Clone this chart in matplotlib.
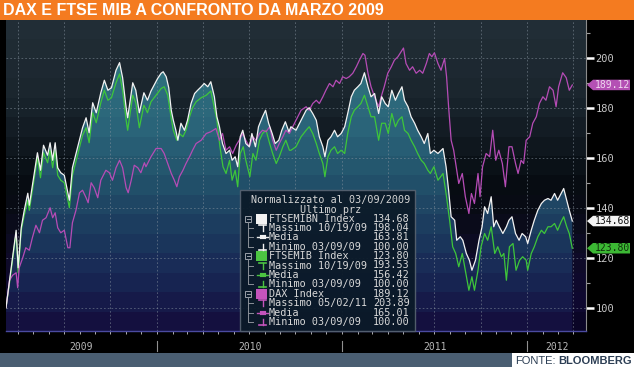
import numpy as np
import pandas as pd
import matplotlib
matplotlib.use("Agg")
import matplotlib.pyplot as plt
from matplotlib.patches import Rectangle, Polygon
from matplotlib.lines import Line2D
from matplotlib.colors import to_rgb
import matplotlib.transforms as mtransforms

# ---- data (normalised to 100 on 03/09/2009), x = days since 2009-03-09 ----
start = pd.Timestamp("2009-03-09")

ftsemibn_days = [0, 7, 20, 24, 30, 36, 43, 46, 56, 62,
                 68, 74, 82, 87, 92, 97, 102, 108, 115, 122,
                 125, 131, 141, 151, 158, 164, 171, 178, 187, 194,
                 201, 208, 217, 224, 230, 237, 240, 250, 256, 263,
                 272, 279,
                 286, 293, 299, 306, 310, 316, 321, 326, 330, 335,
                 339, 345, 352, 358, 365, 372, 378, 385, 391, 398,
                 404, 411, 416, 421, 427, 434, 441, 446, 452, 457,
                 462, 467, 473, 480, 485, 492, 498, 506, 512, 518,
                 525, 531, 538, 544, 551, 558,
                 562, 572, 582, 592, 598, 605, 612, 618, 625, 629,
                 635, 641, 648, 654, 661, 668, 674, 681, 687, 694,
                 700, 707, 714, 720, 727, 735, 741, 748, 754, 761,
                 768, 774, 781, 786, 793, 799, 806, 812, 819, 825,
                 832, 837, 844,
                 852, 862, 868, 873, 878, 885, 889, 896, 901, 908,
                 914, 919, 926, 933, 939, 944, 950, 957, 962, 967,
                 973, 980, 987, 992, 998, 1005, 1012, 1018, 1025, 1029,
                 1036, 1042, 1049, 1056, 1062, 1069, 1075, 1082, 1088, 1095,
                 1100, 1106, 1111, 1117]
ftsemibn = [100, 111, 131, 116, 132, 139, 145.8, 141, 154, 162,
            155, 165, 161, 166, 159, 166, 156, 154, 153, 146,
            143, 156, 164, 172, 176, 170, 182, 178, 186, 191,
            187, 188, 195, 198.04, 192, 180, 176, 190, 187, 178,
            186, 183,
            186.7, 189.4, 191.7, 193.8, 194.4, 192.4, 188, 179, 175, 171,
            167, 173.8, 171, 175, 181.7, 185.7, 187, 188.4, 189.7, 188.4,
            190.4, 184.4, 176.4, 172.4, 165.7, 161.7, 163, 159, 160.4, 156.4,
            168.4, 171, 165.7, 164.4, 169.7, 164.4, 172.4, 176.4, 179, 173.8,
            169.7, 165.7, 167, 171, 174.4, 170.4,
            172.4, 171, 175, 179, 180, 177.7, 175, 168.4, 164.4, 160.4,
            167, 168.4, 171, 168.4, 169.7, 172.4, 177.7, 184.4, 187, 188.4,
            189.7, 194, 188.4, 184.4, 185.7, 177.7, 184.4, 181.7, 180.4, 187,
            183, 185.7, 188.4, 183, 180.4, 176.4, 173.8, 171, 168.4, 165.7,
            169.7, 161.7, 163,
            161.7, 163.7, 156.4, 147, 136.4, 135, 127, 128.4, 127, 121.7,
            119, 115, 119, 127, 132.4, 140.4, 137.7, 144.4, 132.4, 135,
            132.4, 129.7, 132.4, 135, 136.4, 129.7, 127, 129.7, 128.4, 125.7,
            131, 135, 139, 141.7, 143, 143.7, 143, 145.7, 143, 145.7,
            147.7, 143, 139, 134.68]

ftsemib_days = ftsemibn_days[:42] + [
    286, 296, 306, 312, 319, 326, 330, 337, 342, 349,
    355, 362, 368, 375, 385, 395, 404, 411, 416, 422,
    428, 434, 441, 446, 452, 457, 462, 468, 473, 481,
    487, 493, 500, 506, 513, 520, 526, 533, 539, 546,
    552, 559,
    562, 572, 582, 592, 598, 605, 612, 618, 625, 629,
    635, 641, 648, 654, 661, 668, 674, 681, 687, 694,
    700, 707, 714, 720, 727, 735, 741, 748, 754, 761,
    768, 774, 781, 786, 793, 799, 806, 812, 819, 825,
    832, 837, 844,
    852, 862, 868, 875, 881, 887, 893, 900, 906, 913,
    919, 924, 931, 937, 944, 950, 957, 964, 970, 977,
    982, 987, 993, 1000, 1006, 1013, 1019, 1026, 1029, 1036,
    1042, 1049, 1056, 1062, 1069, 1075, 1082, 1088, 1095, 1100,
    1106, 1111, 1117]
ftsemib = [100, 110, 130, 114, 131, 137, 143, 139, 152, 160,
           152, 162, 158, 163, 156, 163, 153, 151, 150, 143,
           140, 153, 161, 169, 172, 166, 178, 174, 182, 187,
           183, 184, 190, 193.53, 187, 175, 171, 185, 182, 172,
           181, 178,
           182.4, 185, 187.7, 188.4, 185, 175.7, 171, 167, 169.7, 168.4,
           171, 176.4, 180, 182.4, 184, 185, 186.7, 180, 175, 164.4,
           156.4, 153.7, 159, 151, 155, 148.4, 161.7, 164.4, 159, 152.4,
           161.7, 159, 167, 169.7, 171, 165.7, 161.7, 157.7, 160.4, 164.4,
           167, 163,
           163, 164.4, 168.4, 171, 172.4, 169.7, 165.7, 161.7, 157.7, 152.4,
           160.4, 163, 164.4, 161.7, 163, 161.7, 169.7, 176.4, 179, 180.4,
           181.7, 185, 180.4, 176.4, 176.4, 167, 173.8, 173.8, 169.7, 177.7,
           172.4, 175, 176.4, 171, 169.7, 167, 164.4, 161.7, 159, 157.7,
           155, 153.7, 156.4,
           151, 153.7, 145.7, 135, 124.4, 121.7, 116.4, 121.7, 115, 107,
           112.4, 107, 115, 124.4, 129.7, 127, 132.4, 121.7, 124.4, 120.4,
           121.7, 111, 124.4, 125.7, 115, 119, 120.4, 119, 115, 121.7,
           124.4, 128.4, 131, 129.7, 132.4, 132.4, 133.7, 131, 134.4, 136.4,
           132.4, 129.7, 123.8]

dax_days = [0, 7, 13, 20, 23, 26, 33, 39, 46, 52,
            59, 66, 72, 79, 87, 92, 97, 102, 108, 115,
            122, 126, 131, 138, 145, 151, 158, 162, 168, 174,
            181, 187, 197, 204, 210, 217, 224, 230, 237, 241,
            247, 253, 260, 266, 273,
            276, 286, 296, 306, 312, 319, 326, 332, 337, 342,
            349, 355, 362, 368, 375, 385, 395, 404, 414, 421,
            427, 434, 441, 447, 454, 460, 467, 473, 480, 487,
            493, 500, 506, 513, 520, 526, 533, 539, 546, 552,
            559,
            562, 572, 582, 592, 598, 605, 612, 618, 625, 631,
            638, 645, 651, 658, 664, 671, 677, 684, 691, 697,
            704, 708, 714, 720, 727, 735, 740, 746, 753, 760,
            766, 773, 784, 789, 796, 802, 809, 816, 822, 829,
            835, 840, 845,
            852, 858, 865, 869, 873, 878, 883, 888, 893, 900,
            906, 913, 918, 924, 931, 935, 940, 947, 954, 960,
            966, 972, 979, 985, 992, 998, 1005, 1010, 1016, 1021,
            1026, 1033, 1039, 1046, 1052, 1059, 1065, 1072, 1079, 1085,
            1090, 1098, 1105, 1111, 1117]
dax = [100, 111, 113, 114, 108, 116, 120, 124, 123, 128,
       133, 130, 135, 136, 140, 136, 138, 132, 130, 131,
       124, 124, 134, 139, 146, 147, 144, 142, 150, 148,
       144, 151, 155, 154, 151, 156, 159, 156, 148, 146,
       151, 157, 156, 154, 158,
       156.4, 160.4, 163.7, 163.7, 161.7, 157.7, 153.7, 151, 148.4, 152.4,
       155, 157.7, 160.4, 163, 165.7, 167, 169.7, 170.4, 171.7, 167,
       169.7, 163, 164.4, 161.7, 165, 167, 169.7, 167, 164.4, 168.4,
       167, 169.7, 171, 170.4, 172.4, 167, 163, 165.7, 168.4, 171,
       169.7,
       171, 175, 179, 180.4, 179, 181.7, 183, 181.7, 184.4, 187,
       189.7, 188.4, 191, 189.7, 192.4, 191.7, 192.4, 193.8, 196.4, 199,
       201.7, 201, 193.8, 188.4, 184.4, 180.4, 184.4, 188.4, 193.8, 196.4,
       199, 200.4, 203.89, 197.7, 195, 196.4, 193.8, 195, 193.8, 197.7,
       201.7, 200.4, 202,
       197.7, 195, 199.7, 192.4, 180.4, 167, 163, 156.4, 149.7, 153.7,
       144.4, 137.7, 145.7, 141.7, 153.7, 144.4, 156.4, 161.7, 160.4, 171,
       159, 163, 157.7, 148.4, 164.4, 164.4, 157.7, 153.7, 159, 157.7,
       167, 168.4, 173.8, 176.4, 181.7, 184.4, 183, 188.4, 187, 180.4,
       188.4, 194, 192, 187, 189.12]

legend_header = ["Normalizzato al 03/09/2009", "Ultimo prz"]
legend_rows = [
    ("FTSEMIBN Index", "134.68"), ("Massimo 10/19/09", "198.04"),
    ("Media", "163.81"), ("Minimo 03/09/09", "100.00"),
    ("FTSEMIB Index", "123.80"), ("Massimo 10/19/09", "193.53"),
    ("Media", "156.42"), ("Minimo 03/09/09", "100.00"),
    ("DAX Index", "189.12"), ("Massimo 05/02/11", "203.89"),
    ("Media", "165.01"), ("Minimo 03/09/09", "100.00"),
]
years = ["2009", "2010", "2011", "2012"]
title = "DAX E FTSE MIB A CONFRONTO DA MARZO 2009"

WHITE, GREEN, MAGENTA = "#f2f2f2", "#3ec63a", "#b64cb6"

# ---- figure helpers (pixel coords, origin top-left) ----
W, H = 634, 367
fig = plt.figure(figsize=(W / 100, H / 100), dpi=100, facecolor="black")


def fx(x):
    return x / W


def fy(y):
    return 1 - y / H


def fline(xs, ys, color, lw=0.8):
    fig.add_artist(Line2D([fx(v) for v in xs], [fy(v) for v in ys],
                          color=color, lw=lw, transform=fig.transFigure))


def frect(x0, y0, x1, y1, **kw):
    fig.add_artist(Rectangle((fx(x0), fy(y1)), (x1 - x0) / W, (y1 - y0) / H,
                             transform=fig.transFigure, **kw))


def bands(stops, n):
    pos = np.array([p for p, _ in stops])
    cols = np.array([to_rgb(c) for _, c in stops])
    t = (np.arange(n) + 0.5) / n
    out = np.stack([np.interp(t, pos, cols[:, k]) for k in range(3)], axis=1)
    return out[:, None, :]


# ---- axes ----
XMIN, XMAX = 0, 1144
YMIN, YMAX = 90.7, 215.1
ax = fig.add_axes([fx(6), fy(331), 580 / W, 311 / H])

bg = bands([(0, "#232f38"), (0.25, "#1a252d"), (0.4, "#10181f"),
            (0.52, "#070d12"), (0.62, "#090b16"), (0.75, "#0e0b26"),
            (0.9, "#0f0930"), (1, "#090422")], 16)
ax.imshow(bg, extent=[XMIN, XMAX, YMIN, YMAX], aspect="auto",
          interpolation="nearest", origin="upper", zorder=0)

fillc = bands([(0, "#377e8c"), (0.15, "#30727f"), (0.35, "#2a6479"),
               (0.5, "#23546c"), (0.62, "#1e4362"), (0.75, "#1a315a"),
               (0.88, "#171f4e"), (1, "#140c3a")], 16)
im = ax.imshow(fillc, extent=[XMIN, XMAX, YMIN, YMAX], aspect="auto",
               interpolation="nearest", origin="upper", zorder=1)
verts = [(ftsemibn_days[0], YMIN)] + list(zip(ftsemibn_days, ftsemibn)) + \
        [(ftsemibn_days[-1], YMIN)]
clip = Polygon(verts, closed=True, facecolor="none", edgecolor="none",
               transform=ax.transData)
ax.add_patch(clip)
im.set_clip_path(clip)

# grid
qdays = [(d - start).days for d in pd.date_range("2009-04-01", "2012-04-01", freq="QS")]
for d in qdays:
    ax.axvline(d, color="#8894a0", lw=0.6, ls=(0, (2, 2.5)), alpha=0.6, zorder=2)
for v in range(100, 201, 20):
    ax.axhline(v, color="#8894a0", lw=0.6, ls=(0, (2, 2.5)), alpha=0.6, zorder=2)

ax.plot(ftsemib_days, ftsemib, color=GREEN, lw=0.9, zorder=3)
ax.plot(dax_days, dax, color=MAGENTA, lw=0.9, zorder=4)
ax.plot(ftsemibn_days, ftsemibn, color=WHITE, lw=0.9, zorder=5)

ax.set_xlim(XMIN, XMAX)
ax.set_ylim(YMIN, YMAX)

for s in ["top", "left"]:
    ax.spines[s].set_visible(False)
ax.spines["right"].set_color("#8c8c8c")
ax.spines["right"].set_linewidth(0.8)
ax.spines["bottom"].set_color("#4a4aa0")
ax.spines["bottom"].set_linewidth(1)

ax.yaxis.tick_right()
ax.set_yticks(range(100, 201, 20))
ax.set_yticks(list(range(110, 211, 20)), minor=True)
ax.tick_params(axis="y", which="major", length=6, width=1.8, color="white",
               labelcolor="#c8c8c8", labelsize=7.5, pad=1)
ax.tick_params(axis="y", which="minor", length=3, width=0.8, color="#a0a0a0")
for lab in ax.get_yticklabels():
    lab.set_family("DejaVu Sans Mono")

mdays = [(d - start).days for d in pd.date_range("2009-04-01", "2012-04-01", freq="MS")]
ax.set_xticks(mdays)
ax.set_xticklabels([])
ax.tick_params(axis="x", length=2.5, width=0.7, color="#b0b0b0")

# ---- last value tags on the right ----
tagtr = mtransforms.blended_transform_factory(fig.transFigure, ax.transData)
for val, face, txtc in [(dax[-1], "#b450b4", "#f0d8f0"),
                        (ftsemibn[-1], "#f4f4f4", "#111111"),
                        (ftsemib[-1], "#3cb834", "#10300c")]:
    hh = 2.1
    pts = [(fx(587), val), (fx(593), val + hh), (fx(630), val + hh),
           (fx(630), val - hh), (fx(593), val - hh)]
    fig.add_artist(Polygon(pts, closed=True, facecolor=face, edgecolor="none",
                           transform=tagtr))
    fig.text(fx(612), val, f"{val:.2f}", transform=tagtr, ha="center",
             va="center", fontsize=7, color=txtc, family="DejaVu Sans Mono")

# ---- legend box ----
frect(240, 190, 415, 331, facecolor="#0b1a28", edgecolor="#566270",
      lw=1, alpha=0.93)
fig.text(fx(331), fy(200), legend_header[0], ha="center", va="center",
         fontsize=7.3, color="#d4d4d4", family="DejaVu Sans Mono")
fig.text(fx(331), fy(209.5), legend_header[1], ha="center", va="center",
         fontsize=7.3, color="#d4d4d4", family="DejaVu Sans Mono")

group_cols = [WHITE, "#4cc442", "#c454bc"]
for i, (name, val) in enumerate(legend_rows):
    y = 218.5 + i * 9.4
    fig.text(fx(269), fy(y), name, ha="left", va="center", fontsize=7.3,
             color="#d8d8d8", family="DejaVu Sans Mono")
    fig.text(fx(410), fy(y), val, ha="right", va="center", fontsize=7.3,
             color="#d8d8d8", family="DejaVu Sans Mono")
    g, k = divmod(i, 4)
    c = group_cols[g]
    if k == 0:
        frect(256, y - 5, 267, y + 5, facecolor=c, edgecolor="none")
        frect(245, y - 3, 251, y + 3, facecolor="none", edgecolor="#9aa0a8", lw=0.7)
        fline([246.5, 249.5], [y, y], "#9aa0a8", 0.7)
        fline([248, 248], [y + 3, y + 3 * 9.4], "#8a9098", 0.7)
    else:
        fline([248, 253], [y, y], "#8a9098", 0.7)
        if k == 1:
            fline([259, 266], [y - 3, y - 3], c, 1.2)
            fline([262.5, 262.5], [y - 3, y + 3], c, 1)
        elif k == 2:
            fline([257, 268], [y, y], c, 1)
            fline([261.5, 263.5], [y, y], c, 3)
        else:
            fline([262.5, 262.5], [y - 3, y + 3], c, 1)
            fline([259, 266], [y + 3, y + 3], c, 1.2)

# ---- year labels under the axis ----
ybounds = [0] + [(pd.Timestamp(f"{yr}-01-01") - start).days for yr in (2010, 2011, 2012)] + [XMAX]
to_px = lambda d: 6 + d * 580 / (XMAX - XMIN)
for i, yr in enumerate(years):
    xc = (to_px(ybounds[i]) + to_px(ybounds[i + 1])) / 2
    fig.text(fx(xc), fy(346.5), yr, ha="center", va="center", fontsize=7,
             color="#b8b8b8", family="DejaVu Sans Mono")
    if i > 0:
        fline([to_px(ybounds[i])] * 2, [341, 351], "#909090", 0.8)

# ---- title bar and footer ----
frect(0, 0, 634, 20, facecolor="#f47b20", edgecolor="none")
fig.text(fx(3), fy(10.5), title, ha="left", va="center", fontsize=11.5,
         fontweight="bold", color="white", family="Liberation Sans")

frect(0, 353, 634, 367, facecolor="#4a5e72", edgecolor="none", zorder=1)
r = fig.canvas.get_renderer()
t2 = fig.text(fx(632), fy(360.5), "BLOOMBERG", ha="right", va="center",
              fontsize=8, fontweight="bold", color="#2c3e54",
              family="Liberation Sans", zorder=4)
x_b = t2.get_window_extent(r).x0
t1 = fig.text((x_b - 3) / W, fy(360.5), "FONTE:", ha="right", va="center",
              fontsize=8, color="#2c3e54", family="Liberation Sans", zorder=4)
x_f = t1.get_window_extent(r).x0
frect(x_f - 3, 353, 634, 367, facecolor="white", edgecolor="none", zorder=3)

fig.savefig("out.png", dpi=100, facecolor="black")
